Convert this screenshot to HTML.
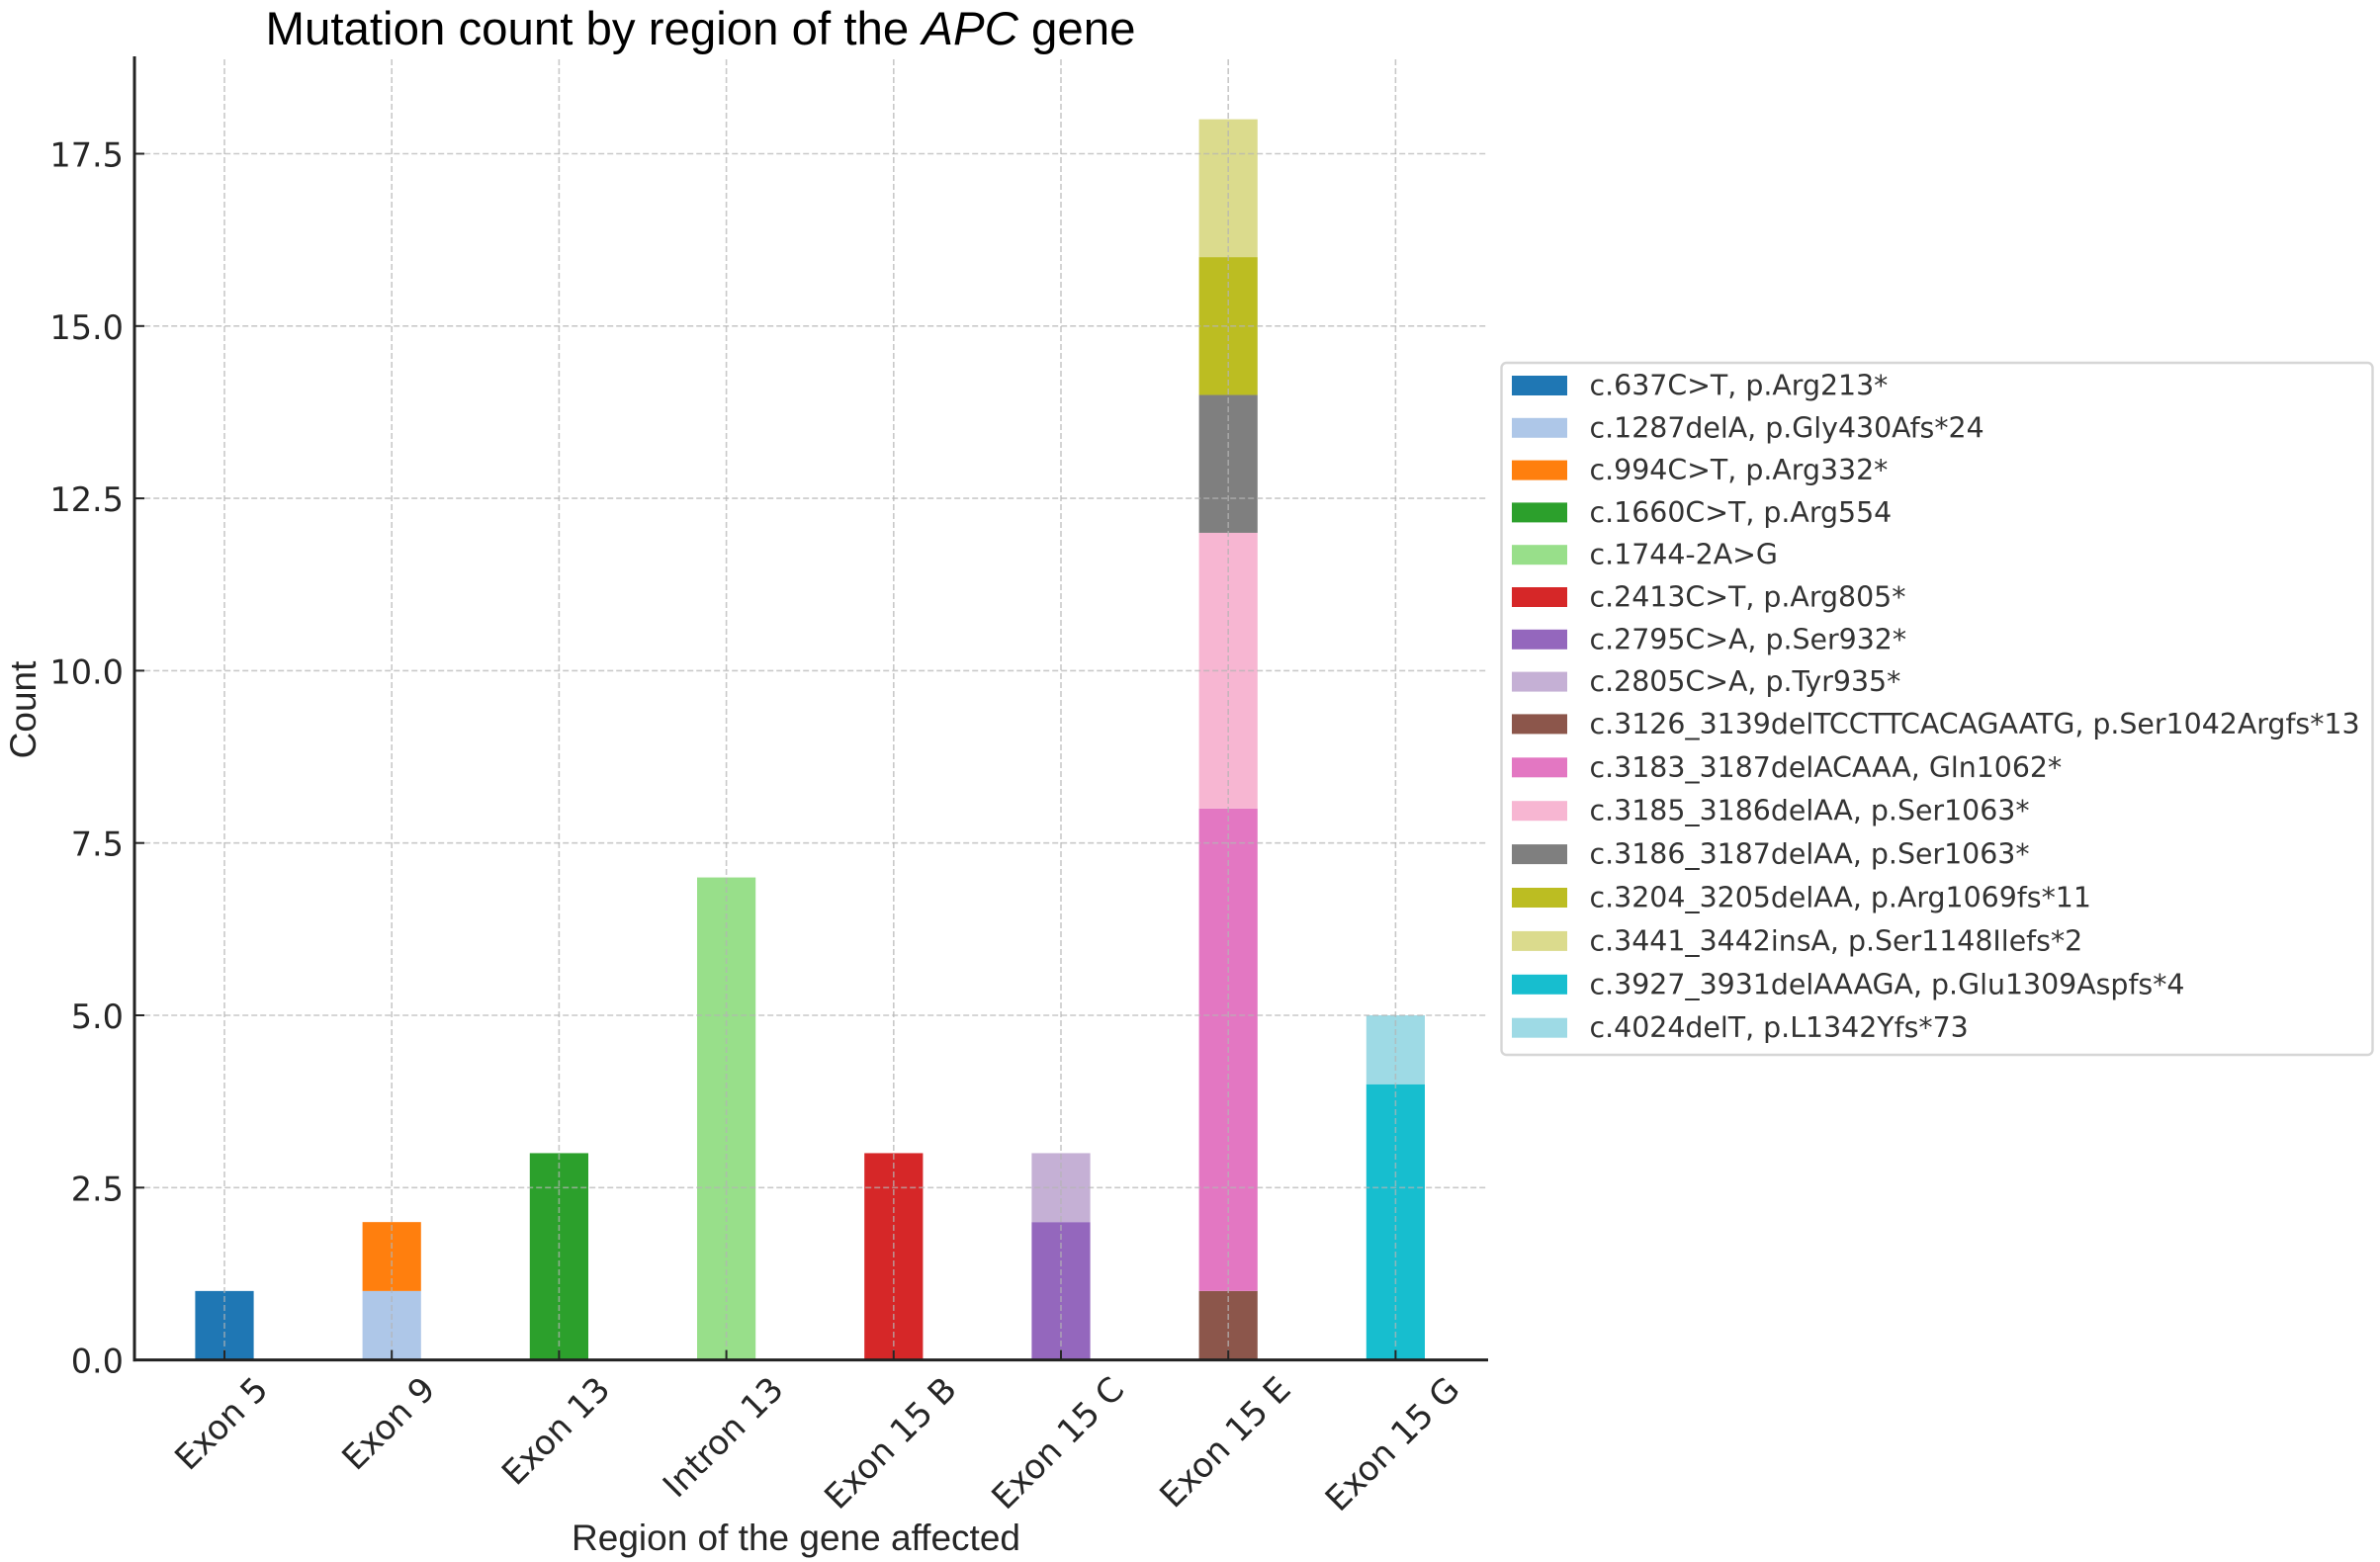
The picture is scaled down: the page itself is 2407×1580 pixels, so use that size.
<!DOCTYPE html>
<html lang="en">
<head>
<meta charset="utf-8">
<title>Mutation count by region of the APC gene</title>
<style>
html,body{margin:0;padding:0;background:#fff;width:2407px;height:1580px;overflow:hidden}
svg{display:block}
.helv{font-family:"Liberation Sans",Arial,sans-serif}
.dj{font-family:"DejaVu Sans",sans-serif}
</style>
</head>
<body>
<svg id="chart" xmlns="http://www.w3.org/2000/svg" width="2407" height="1580" viewBox="0 0 2407 1580">
<rect x="0" y="0" width="2407" height="1580" fill="#ffffff"/>
<text class="helv" x="708.5" y="45" font-size="47.4" text-anchor="middle" fill="#000000">Mutation count by region of the <tspan font-style="italic">APC</tspan> gene</text>
<text class="helv" transform="translate(36 718) rotate(-90)" font-size="37" text-anchor="middle" fill="#262626">Count</text>
<text class="helv" x="805" y="1568" font-size="37" text-anchor="middle" fill="#262626">Region of the gene affected</text>
<g id="bars"></g>
<g id="grid"></g>
<g id="axes"></g>
<g id="legend"></g>
</svg>
<script>
const categories = ["Exon 5","Exon 9","Exon 13","Intron 13","Exon 15 B","Exon 15 C","Exon 15 E","Exon 15 G"];
const yTicks = [0,2.5,5,7.5,10,12.5,15,17.5];
const yTickLabels = ["0.0","2.5","5.0","7.5","10.0","12.5","15.0","17.5"];
const mutationLabels = ["c.637C>T, p.Arg213*","c.1287delA, p.Gly430Afs*24","c.994C>T, p.Arg332*","c.1660C>T, p.Arg554","c.1744-2A>G","c.2413C>T, p.Arg805*","c.2795C>A, p.Ser932*","c.2805C>A, p.Tyr935*","c.3126_3139delTCCTTCACAGAATG, p.Ser1042Argfs*13","c.3183_3187delACAAA, Gln1062*","c.3185_3186delAA, p.Ser1063*","c.3186_3187delAA, p.Ser1063*","c.3204_3205delAA, p.Arg1069fs*11","c.3441_3442insA, p.Ser1148Ilefs*2","c.3927_3931delAAAGA, p.Glu1309Aspfs*4","c.4024delT, p.L1342Yfs*73"];
const mutationRegion = [0,1,1,2,3,4,5,5,6,6,6,6,6,6,7,7];
const mutationCounts = [1,1,1,3,7,3,2,1,1,7,4,2,2,2,4,1];
const mutationColors = ["#1f77b4","#aec7e8","#ff7f0e","#2ca02c","#98df8a","#d62728","#9467bd","#c5b0d5","#8c564b","#e377c2","#f7b6d2","#7f7f7f","#bcbd22","#dbdb8d","#17becf","#9edae5"];

const SVGNS = "http://www.w3.org/2000/svg";
const plotLeft = 135.2, plotRight = 1504, plotTop = 58, plotBottom = 1375.6;
const xScale = function (i) { return 227 + i * 169.2; };
const yScale = function (v) { return plotBottom - v * 69.72; };
const barWidth = 59.2;
function mk(tag, parent, attrs) {
  const el = document.createElementNS(SVGNS, tag);
  for (const k in attrs) el.setAttribute(k, attrs[k]);
  parent.appendChild(el);
  return el;
}
const barsG = document.getElementById('bars');
const gridG = document.getElementById('grid');
const axesG = document.getElementById('axes');
const legendG = document.getElementById('legend');

/* stacked bars */
const stackTops = categories.map(function () { return 0; });
mutationCounts.forEach(function (count, i) {
  const region = mutationRegion[i];
  const base = stackTops[region];
  const top = base + count;
  stackTops[region] = top;
  const r = mk('rect', barsG, {
    x: xScale(region) - barWidth / 2,
    y: yScale(top),
    width: barWidth,
    height: yScale(base) - yScale(top),
    fill: mutationColors[i]
  });
  
  
});

/* grid */
categories.forEach(function (c, i) {
  const l = mk('line', gridG, {
    x1: xScale(i), x2: xScale(i), y1: 60, y2: plotBottom,
    stroke: '#b4b4b4', 'stroke-opacity': 0.72, 'stroke-width': 1.6, 'stroke-dasharray': '6 3'
  });
  
  
});
yTicks.forEach(function (v) {
  if (v === 0) return;
  const l = mk('line', gridG, {
    x1: plotLeft + 2, x2: plotRight - 1, y1: yScale(v), y2: yScale(v),
    stroke: '#b4b4b4', 'stroke-opacity': 0.72, 'stroke-width': 1.6, 'stroke-dasharray': '6 3'
  });
  
  
});

/* y ticks and labels */
yTicks.forEach(function (v, i) {
  const t = mk('line', axesG, { x1: 136, x2: 146, y1: yScale(v), y2: yScale(v), stroke: '#262626', 'stroke-width': 2 });
  
  
  const lab = mk('text', axesG, { x: 125, y: yScale(v) + 13, 'font-size': 33.5, 'text-anchor': 'end', fill: '#262626', 'class': 'dj' });
  lab.textContent = yTickLabels[i];
  
  
});

/* x ticks and labels */
categories.forEach(function (c, i) {
  const t = mk('line', axesG, { x1: xScale(i), x2: xScale(i), y1: plotBottom - 10, y2: plotBottom, stroke: '#262626', 'stroke-width': 2 });
  
  
  const lab = mk('text', axesG, { 'font-size': 34, 'text-anchor': 'middle', fill: '#262626', 'class': 'dj' });
  lab.textContent = c;
  
  
  const len = lab.getComputedTextLength();
  const cx = xScale(i) - 3.5;
  const cy = 1390 + (len + 25) * 0.3535;
  lab.setAttribute('x', cx);
  lab.setAttribute('y', cy + 12);
  lab.setAttribute('transform', 'rotate(-45 ' + cx + ' ' + cy + ')');
});

/* spines */
const spineL = mk('line', axesG, { x1: 136, x2: 136, y1: 57, y2: plotBottom + 1.5, stroke: '#222222', 'stroke-width': 3 });


const spineB = mk('line', axesG, { x1: 134.5, x2: 1505, y1: plotBottom, y2: plotBottom, stroke: '#222222', 'stroke-width': 3 });



/* legend */
const frame = mk('rect', legendG, { x: 1518.5, y: 367, width: 881, height: 700, rx: 5, ry: 5, fill: '#ffffff', stroke: '#d6d6d6', 'stroke-width': 2.4 });


let rowY = 390;
mutationLabels.forEach(function (label, i) {
  const sw = mk('rect', legendG, { x: 1529, y: rowY - 10, width: 56, height: 20, fill: mutationColors[i] });
  
  
  const tx = mk('text', legendG, { x: 1607.5, y: rowY + 9.5, 'font-size': 28.4, fill: '#333333', 'class': 'dj' });
  tx.textContent = label;
  
  
  rowY += label.indexOf('_') >= 0 ? 43.9 : 42.8;
});
</script>
</body>
</html>
